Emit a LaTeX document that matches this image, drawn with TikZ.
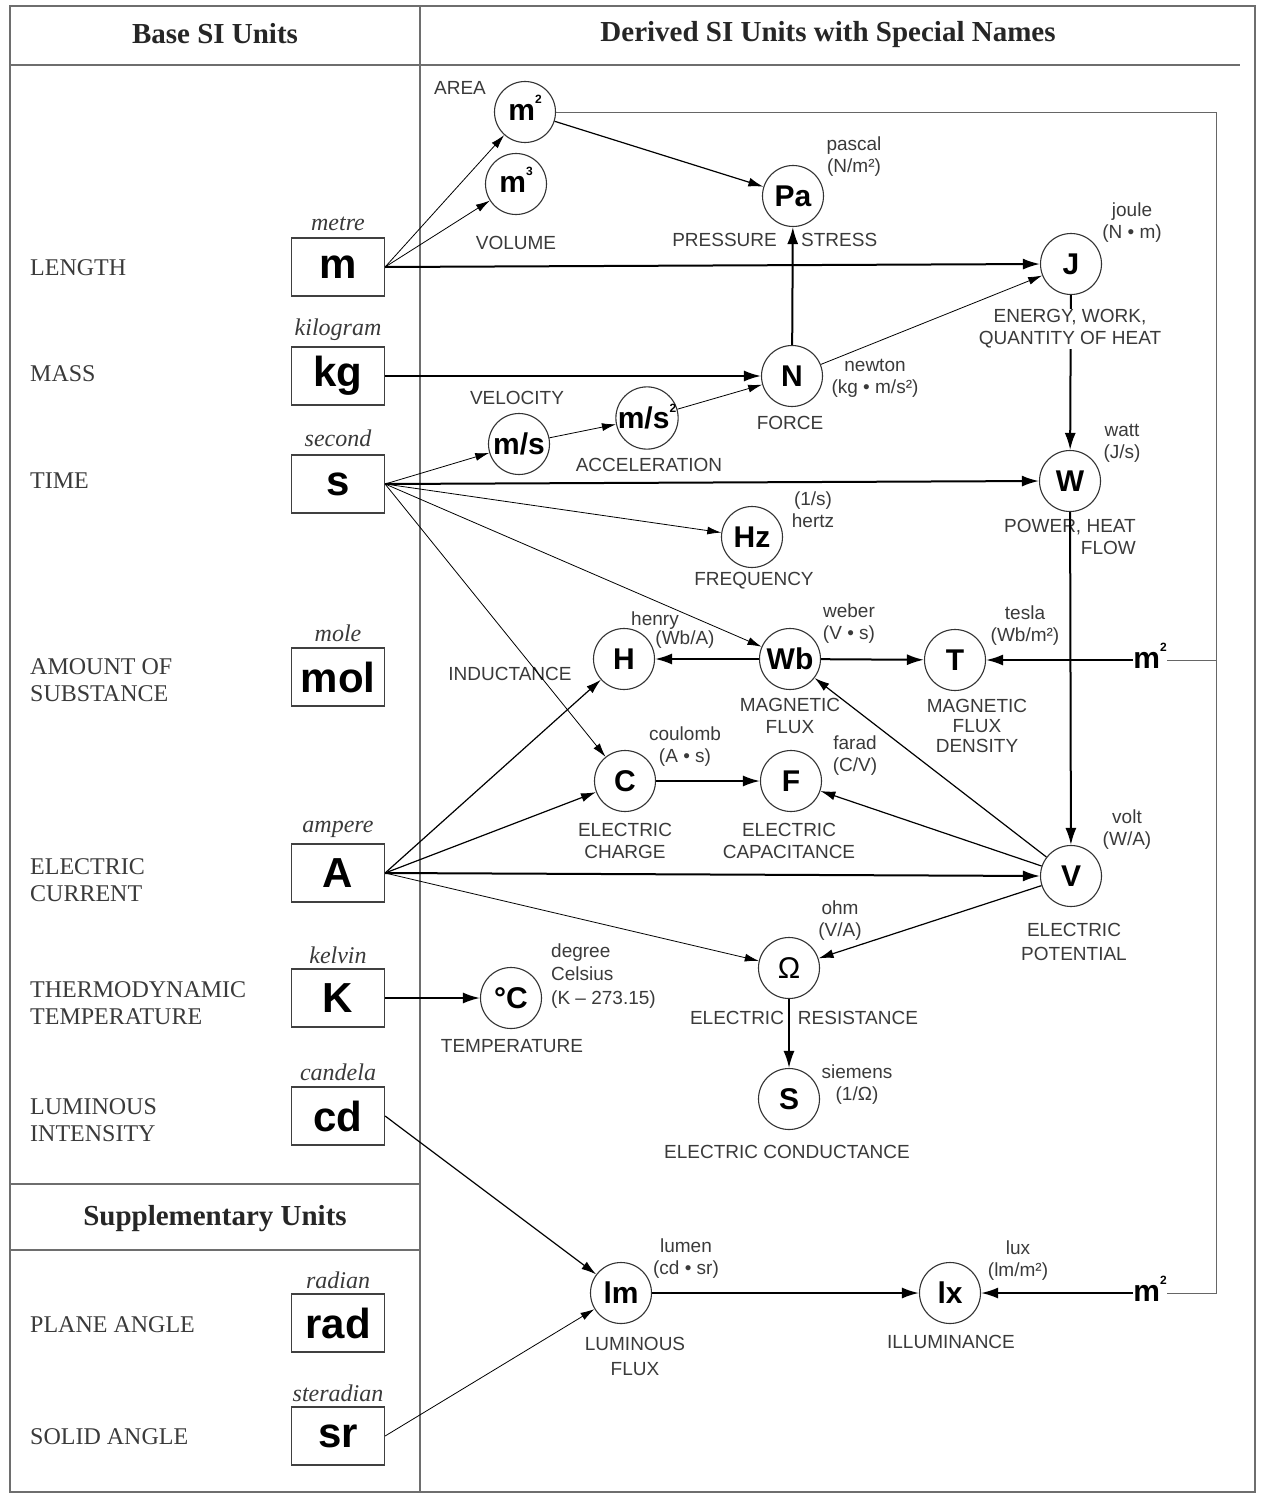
\documentclass[tikz,border=0pt]{standalone}
\usepackage{fontspec}
\setmainfont{Liberation Serif}
\setsansfont{Liberation Sans}
\usetikzlibrary{arrows.meta}
\definecolor{framec}{HTML}{6E6E6E}
\definecolor{lbl}{HTML}{3A3A3A}
\newcommand\supsq{\smash{\raisebox{0.55em}{\fontsize{12}{12}\selectfont 2}}}
\newcommand\supcu{\smash{\raisebox{0.55em}{\fontsize{12}{12}\selectfont 3}}}
\tikzset{
  unitbox/.style={draw=black!75, line width=1.2pt, minimum width=93pt, minimum height=58pt, inner sep=0pt,
    font=\sffamily\bfseries\fontsize{42}{42}\selectfont},
  unitc/.style={circle, draw=black!80, line width=1.1pt, minimum size=61pt, inner sep=0pt,
    font=\sffamily\bfseries\fontsize{30}{30}\selectfont},
  lab/.style={font=\sffamily\fontsize{19}{22}\selectfont, text=lbl, align=center, inner sep=0pt},
  quant/.style={font=\rmfamily\fontsize{24}{27}\selectfont, text=lbl, align=left, anchor=west, inner sep=0pt},
  uname/.style={font=\rmfamily\itshape\fontsize{24}{24}\selectfont, text=lbl, inner sep=0pt},
  ttl/.style={font=\rmfamily\bfseries\fontsize{29}{29}\selectfont, text=black!85, inner sep=0pt},
  fr/.style={draw=framec, line width=1.6pt},
  wire/.style={draw=black!60, line width=0.9pt},
  thk/.style={line width=2pt, -{Latex[length=17pt,width=11pt]}},
  med/.style={line width=1.2pt, -{Latex[length=15pt,width=9pt]}},
  thn/.style={line width=0.8pt, -{Latex[length=14pt,width=8pt]}},
  bigm/.style={inner sep=0pt, font=\sffamily\bfseries\fontsize{30}{30}\selectfont},
}
\begin{document}
\begin{tikzpicture}[x=1pt,y=-1pt]
\useasboundingbox (0,0) rectangle (1261,1493);
% frame
\draw[fr] (10,6) rectangle (1255,1492);
\draw[fr] (420,6) -- (420,1492);
\draw[fr] (10,65) -- (1240,65);
\draw[fr] (10,1184) -- (420,1184);
\draw[fr] (10,1250) -- (420,1250);
% titles
\node[ttl] (t1) at (215,34) {Base SI Units};
\node[ttl] (t2) at (828,35) {Derived SI Units with Special Names};
\node[ttl] (t3) at (215,1219) {Supplementary Units};
% quantities
\node[quant] (q1) at (30,268) {LENGTH};
\node[quant] (q2) at (30,374) {MASS};
\node[quant] (q3) at (30,481) {TIME};
\node[quant] (q4) at (30,680) {AMOUNT OF\\SUBSTANCE};
\node[quant] (q5) at (30,880) {ELECTRIC\\CURRENT};
\node[quant] (q6) at (30,1003) {THERMODYNAMIC\\TEMPERATURE};
\node[quant] (q7) at (30,1120) {LUMINOUS\\INTENSITY};
\node[quant] (q8) at (30,1325) {PLANE ANGLE};
\node[quant] (q9) at (30,1437) {SOLID ANGLE};
% base units
\node[unitbox] (m) at (338,267) {m};
\node[unitbox] (kg) at (338,376) {kg};
\node[unitbox] (s) at (338,484) {s};
\node[unitbox] (mol) at (338,677) {mol};
\node[unitbox] (A) at (338,873) {A};
\node[unitbox] (K) at (338,998) {K};
\node[unitbox] (cd) at (338,1116) {cd};
\node[unitbox] (rad) at (338,1323) {rad};
\node[unitbox] (sr) at (338,1436) {sr};
\node[uname] (n1) at (338,224) {metre};
\node[uname] (n2) at (338,330) {kilogram};
\node[uname] (n3) at (338,438) {second};
\node[uname] (n4) at (338,633) {mole};
\node[uname] (n5) at (338,829) {ampere};
\node[uname] (n6) at (338,955) {kelvin};
\node[uname] (n7) at (338,1072) {candela};
\node[uname] (n8) at (338,1280) {radian};
\node[uname] (n9) at (338,1393) {steradian};
% derived units
\node[unitc] (m2a) at (525,112) {m\supsq};
\node[unitc] (m3) at (516,184) {m\supcu};
\node[unitc] (Pa) at (793,196) {Pa};
\node[unitc] (J) at (1071,264) {J};
\node[unitc] (N) at (792,376) {N};
\node[unitc] (ms) at (519,444) {m/s};
\node[unitc] (mss) at (647,418) {m/s\supsq};
\node[unitc] (Hz) at (752,537) {Hz};
\node[unitc] (W) at (1070,481) {W};
\node[unitc] (H) at (624,659) {H};
\node[unitc] (Wb) at (790,659) {Wb};
\node[unitc] (T) at (955,660) {T};
\node[unitc] (C) at (625,781) {C};
\node[unitc] (F) at (791,781) {F};
\node[unitc] (V) at (1071,876) {V};
\node[unitc, font=\sffamily\fontsize{30}{30}\selectfont] (Om) at (789,968) {Ω};
\node[unitc] (S) at (789,1099) {S};
\node[unitc] (degC) at (511,998) {°C};
\node[unitc] (lm) at (621,1293) {lm};
\node[unitc] (lx) at (950,1293) {lx};
\node[bigm] (m2t) at (1150,660) {m\supsq};
\node[bigm] (m2l) at (1150,1293) {m\supsq};
% labels
\node[lab] (l1) at (460,88) {AREA};
\node[lab] (l2) at (516,243) {VOLUME};
\node[lab] (l3) at (854,157) {pascal\\(N/m²)};
\node[lab, anchor=east] (l4) at (777,240) {PRESSURE};
\node[lab, anchor=west] (l5) at (801,240) {STRESS};
\node[lab] (l6) at (1132,223) {joule\\(N • m)};
\node[lab] (l8) at (875,378) {newton\\(kg • m/s²)};
\node[lab] (l9) at (517,398) {VELOCITY};
\node[lab] (l10) at (649,465) {ACCELERATION};
\node[lab] (l11) at (790,423) {FORCE};
\node[lab] (l12) at (1122,443) {watt\\(J/s)};
\node[lab, align=right, anchor=east] (l13) at (1136,537) {POWER, HEAT\\FLOW};
\node[lab] (l14) at (813,510) {(1/s)\\hertz};
\node[lab] (l15) at (754,581) {FREQUENCY};
\node[lab] (l16) at (655,621) {henry};
\node[lab] (l17) at (685,640) {(Wb/A)};
\node[lab] (l18) at (849,624) {weber\\(V • s)};
\node[lab] (l19) at (1025,626) {tesla\\(Wb/m²)};
\node[lab] (l20) at (510,674) {INDUCTANCE};
\node[lab] (l21) at (790,716) {MAGNETIC\\FLUX};
\node[lab, font=\sffamily\fontsize{19}{20}\selectfont] (l22) at (977,726) {MAGNETIC\\FLUX\\DENSITY};
\node[lab] (l23) at (685,747) {coulomb\\(A • s)};
\node[lab] (l24) at (855,756) {farad\\(C/V)};
\node[lab] (l25) at (625,841) {ELECTRIC\\CHARGE};
\node[lab] (l26) at (789,841) {ELECTRIC\\CAPACITANCE};
\node[lab] (l27) at (1127,830) {volt\\(W/A)};
\node[lab, font=\sffamily\fontsize{19}{24}\selectfont] (l28) at (1074,942) {ELECTRIC\\POTENTIAL};
\node[lab] (l29) at (840,921) {ohm\\(V/A)};
\node[lab, align=left, anchor=west, font=\sffamily\fontsize{19}{23.5}\selectfont] (l30) at (551,976) {degree\\Celsius\\(K – 273.15)};
\node[lab] (l31) at (512,1046) {TEMPERATURE};
\node[lab] (l32) at (804,1018) {ELECTRIC\hspace{14pt}RESISTANCE};
\node[lab] (l33) at (857,1085) {siemens\\(1/Ω)};
\node[lab] (l34) at (787,1152) {ELECTRIC CONDUCTANCE};
\node[lab] (l35) at (686,1259) {lumen\\(cd • sr)};
\node[lab, font=\sffamily\fontsize{19}{25}\selectfont] (l36) at (635,1356) {LUMINOUS\\FLUX};
\node[lab] (l37) at (1018,1261) {lux\\(lm/m²)};
\node[lab] (l38) at (951,1342) {ILLUMINANCE};
% m^2 return wire
\coordinate (wt) at (1216,112);
\coordinate (wm) at (1216,660);
\coordinate (wb) at (1216,1293);
\draw[wire] (m2a.east) -- (wt) -- (wb) -- (m2l.east);
\draw[wire] (wm) -- (m2t.east);
% connectors
\draw[thn] (m.east) -- (m2a);
\draw[thn] (m.east) -- (m3);
\draw[thk] (m.east) -- (J.west);
\draw[med] (m2a) -- (Pa);
\draw[thk] (kg.east) -- (N.west);
\draw[thk] (N) -- (Pa);
\draw[thn] (N) -- (J);
\draw[thn] (s.east) -- (ms);
\draw[thn] (ms) -- (mss);
\draw[thn] (mss) -- (N);
\draw[thk] (s.east) -- (W.west);
\draw[thn] (s.east) -- (Hz);
\draw[thn] (s.east) -- (Wb);
\draw[thn] (s.east) -- (C);
\draw[thk] (J) -- (W);
\draw[thk] (W) -- (V);
\draw[thk] (Wb) -- (H);
\draw[thk] (Wb) -- (T);
\draw[thk] (m2t.west) -- (T);
\draw[med] (A.east) -- (H);
\draw[med] (A.east) -- (C);
\draw[thk] (A.east) -- (V.west);
\draw[thn] (A.east) -- (Om);
\draw[thk] (C) -- (F);
\draw[med] (V) -- (F);
\draw[med] (V) -- (Wb);
\draw[med] (V) -- (Om);
\draw[thk] (K.east) -- (degC.west);
\draw[thk] (Om) -- (S);
\draw[med] (cd.east) -- (lm);
\draw[thn] (sr.east) -- (lm);
\draw[thk] (lm) -- (lx);
\draw[thk] (m2l.west) -- (lx);
% label drawn over the J-W connector
\node[lab, fill=white, inner sep=1pt] (l7) at (1070,329) {ENERGY, WORK,\\QUANTITY OF HEAT};
\end{tikzpicture}
\end{document}
